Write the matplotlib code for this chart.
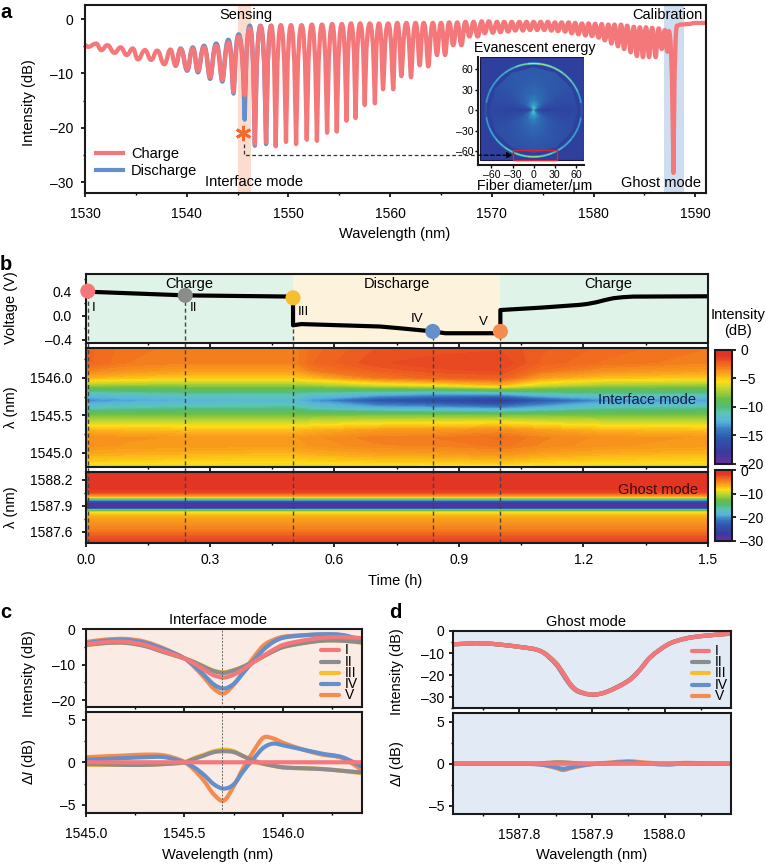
import matplotlib
matplotlib.use('Agg')
import matplotlib.pyplot as plt
import numpy as np
from matplotlib.colors import LinearSegmentedColormap
from matplotlib.lines import Line2D
from matplotlib.patches import Arc, PathPatch, Rectangle
from matplotlib.path import Path
from matplotlib.ticker import MultipleLocator

plt.rcParams['font.family'] = ['Liberation Sans', 'DejaVu Sans']
plt.rcParams['font.size'] = 10
plt.rcParams['mathtext.fontset'] = 'custom'
plt.rcParams['mathtext.rm'] = 'Liberation Sans'
plt.rcParams['mathtext.it'] = 'Liberation Sans:italic'
plt.rcParams['axes.linewidth'] = 1.5
plt.rcParams['axes.edgecolor'] = '#1a1a1a'

W, H = 766, 867
LABEL = 10.5

RED = '#F4777A'
GREY = '#8C8C8C'
YEL = '#F7BE2F'
BLUE = '#648FCB'
ORG = '#F58B4C'

# panel a, alternating fringe extremes
charge_wl = [1530.0, 1530.3, 1531.1, 1531.6, 1532.2, 1532.9, 1533.5, 1534.1, 1534.7, 1535.2,
             1535.9, 1536.5, 1537.1, 1537.8, 1538.4, 1538.9, 1539.4, 1540.05, 1540.6, 1541.1,
             1541.7, 1542.3, 1542.9, 1543.5, 1544.1, 1544.6, 1545.1, 1545.7, 1546.2, 1546.7,
             1547.25, 1547.8, 1548.3, 1548.75, 1549.25, 1549.76, 1550.25, 1550.75, 1551.3, 1551.8,
             1552.3, 1552.8, 1553.3, 1553.8, 1554.3, 1554.75, 1555.25, 1555.7, 1556.15, 1556.6,
             1557.05, 1557.5, 1558.0, 1558.5, 1558.9, 1559.3, 1559.8, 1560.3, 1560.7, 1561.1,
             1561.6, 1562.05, 1562.5, 1562.9, 1563.3, 1563.75, 1564.2, 1564.6, 1565.0, 1565.4,
             1565.8, 1566.2, 1566.6, 1567.0, 1567.4, 1567.8, 1568.2, 1568.6, 1569.0, 1569.3,
             1569.7, 1570.1, 1570.5, 1570.85, 1571.2, 1571.6, 1571.95, 1572.3, 1572.7, 1573.05,
             1573.4, 1573.75, 1574.1, 1574.45, 1574.8, 1575.15, 1575.5, 1575.85, 1576.2, 1576.5,
             1576.85, 1577.2, 1577.55, 1577.85, 1578.2, 1578.5, 1578.85, 1579.2, 1579.5, 1579.85,
             1580.15, 1580.5, 1580.8, 1581.1, 1581.45, 1581.75, 1582.05, 1582.4, 1582.7, 1583.0,
             1583.3, 1583.65, 1583.95, 1584.25, 1584.55, 1584.85, 1585.15, 1585.45, 1585.75, 1586.1,
             1586.4, 1586.7, 1587.0, 1587.25, 1587.4, 1587.85, 1588.2, 1588.6, 1589.3, 1590.0, 1591.05]
charge_int = [-4.8, -5.1, -4.5, -5.7, -4.8, -6.2, -5.2, -6.6, -5.4, -7.4,
              -5.7, -7.5, -5.8, -8.3, -5.6, -8.5, -5.5, -9.3, -5.4, -9.5,
              -5.2, -10.7, -4.9, -11.2, -4.3, -13.4, -3.2, -14.0, -1.7, -23.0,
              -1.3, -22.7, -1.2, -23.4, -1.1, -22.6, -1.1, -23.0, -1.1, -22.2,
              -1.0, -22.4, -1.0, -20.9, -0.9, -20.7, -0.9, -18.7, -0.8, -18.2,
              -0.8, -15.8, -0.8, -15.5, -0.8, -12.9, -0.8, -12.9, -0.7, -10.5,
              -0.7, -10.7, -0.7, -8.5, -0.7, -8.7, -0.7, -6.6, -0.7, -6.6,
              -0.6, -4.8, -0.6, -4.8, -0.5, -3.2, -0.5, -3.2, -0.4, -2.6,
              -0.4, -2.5, -0.5, -2.4, -0.5, -2.3, -0.5, -2.1, -0.5, -2.1,
              -0.5, -2.0, -0.5, -2.0, -0.5, -2.0, -0.5, -2.1, -0.6, -2.2,
              -0.6, -2.3, -0.6, -2.6, -0.7, -2.8, -0.8, -3.0, -0.8, -3.1,
              -0.85, -3.4, -0.9, -3.9, -1.0, -4.5, -1.0, -5.0, -1.0, -5.5,
              -1.2, -6.1, -1.4, -6.8, -1.5, -7.0, -1.5, -7.0, -1.6, -7.0,
              -1.7, -5.5, -2.0, -6.0, -2.2, -28.3, -1.2, -1.0, -0.9, -0.7, -0.7]
discharge_wl = [1538.9, 1539.4, 1540.05, 1540.6, 1541.1, 1541.7, 1542.3, 1542.9, 1543.5, 1544.1,
                1544.6, 1545.1, 1545.7, 1546.2, 1546.7, 1547.25, 1547.8, 1548.3]
discharge_int = [-8.6, -5.4, -9.5, -5.2, -9.8, -4.9, -11.0, -4.5, -11.5, -3.8,
                 -13.7, -2.8, -18.5, -1.2, -23.3, -1.2, -23.0, -1.2]
a_ticks = [1530, 1540, 1550, 1560, 1570, 1580, 1590]
a_yticks = [0, -10, -20, -30]

# panel a inset, polar table (bowtie field inside the fibre)
inset_r = [0, 3, 8, 15, 25, 35, 45, 55, 62]
inset_deg = [0, 30, 60, 90, 120, 150, 180, 210, 240, 270, 300, 330, 360]
inset_field = [[.60, .05, .02, .01, .02, .02, .03, .04, .05],
               [.60, .35, .22, .16, .13, .11, .10, .10, .10],
               [.60, .52, .38, .26, .20, .17, .15, .15, .14],
               [.65, .60, .45, .32, .24, .20, .17, .15, .14],
               [.60, .52, .38, .26, .20, .17, .15, .15, .14],
               [.60, .35, .22, .16, .13, .11, .10, .10, .10],
               [.60, .05, .02, .01, .02, .02, .03, .04, .05],
               [.60, .35, .22, .16, .13, .11, .09, .09, .08],
               [.60, .52, .38, .26, .20, .16, .13, .11, .10],
               [.65, .60, .45, .32, .24, .19, .15, .12, .10],
               [.60, .52, .38, .26, .20, .16, .13, .11, .10],
               [.60, .35, .22, .16, .13, .11, .09, .09, .08],
               [.60, .05, .02, .01, .02, .02, .03, .04, .05]]
ring_deg = [3, 15, 30, 45, 60, 75, 90, 105, 120, 135, 150, 165, 177,
            183, 195, 210, 225, 240, 255, 270, 285, 300, 315, 330, 345, 357]
ring_val = [.12, .48, .62, .70, .78, .85, .92, .72, .56, .50, .46, .42, .12,
            .12, .44, .50, .58, .68, .76, .82, .72, .60, .52, .48, .44, .12]
inset_ticks = [-60, -30, 0, 30, 60]

# panel b
volt_t = [0.005, 0.24, 0.5, 0.5, 0.52, 0.71, 0.76, 0.837, 0.867, 1.0, 1.0, 1.1, 1.192, 1.21, 1.232, 1.25, 1.272, 1.295, 1.32, 1.5]
volt_v = [0.39, 0.33, 0.31, -0.16, -0.14, -0.18, -0.21, -0.26, -0.29, -0.29, 0.09, 0.13, 0.175, 0.19, 0.218, 0.25, 0.283, 0.30, 0.31, 0.315]
point_t = [0.005, 0.24, 0.5, 0.837, 1.0]
point_v = [0.40, 0.33, 0.29, -0.26, -0.26]
point_c = [RED, GREY, YEL, BLUE, ORG]
point_names = ['I', 'II', 'III', 'IV', 'V']

heat_t = [0, 0.1, 0.24, 0.4, 0.5, 0.55, 0.7, 0.84, 1.0, 1.1, 1.25, 1.5]
heat_wl = [1546.39, 1546.2, 1546.1, 1546.0, 1545.9, 1545.8, 1545.7, 1545.6, 1545.5,
           1545.4, 1545.3, 1545.2, 1545.1, 1545.0, 1544.9, 1544.81]
heat_int = [[-2.4, -2.9, -3.1, -3.2, -3.2, -2.6, -2.0, -1.9, -1.8, -2.2, -2.6, -3.0],
            [-2.4, -3.0, -3.2, -3.2, -3.2, -2.5, -1.8, -1.6, -1.5, -2.3, -2.8, -3.2],
            [-3.2, -3.6, -3.9, -3.9, -3.9, -3.0, -2.2, -1.8, -1.7, -2.8, -3.5, -3.9],
            [-4.4, -4.8, -5.0, -5.0, -5.0, -4.6, -3.0, -2.4, -2.2, -4.0, -4.8, -5.0],
            [-7.5, -7.7, -7.7, -7.7, -7.7, -7.5, -6.5, -5.8, -4.6, -6.5, -7.5, -7.7],
            [-11.2, -11.0, -10.5, -10.5, -10.5, -11.0, -11.4, -12.2, -11.8, -10.8, -10.3, -10.3],
            [-13.6, -13.0, -12.6, -12.2, -12.2, -13.3, -15.8, -16.8, -18.0, -15.5, -13.5, -13.2],
            [-11.4, -11.0, -10.6, -10.6, -10.5, -11.5, -12.6, -12.9, -13.6, -12.5, -11.0, -10.6],
            [-8.2, -8.2, -8.2, -8.2, -8.2, -8.2, -8.2, -8.2, -8.2, -8.2, -8.2, -8.2],
            [-6.3, -6.4, -6.5, -6.5, -6.5, -6.2, -5.8, -5.7, -5.5, -5.9, -6.3, -6.5],
            [-4.4, -4.6, -4.7, -4.7, -4.7, -4.4, -3.9, -3.8, -3.5, -4.0, -4.5, -4.7],
            [-3.5, -3.7, -3.8, -3.8, -3.8, -3.6, -3.1, -3.0, -2.7, -3.2, -3.6, -3.8],
            [-3.6, -3.8, -3.85, -3.9, -3.9, -3.7, -3.3, -3.2, -2.9, -3.3, -3.7, -3.9],
            [-4.2, -4.3, -4.4, -4.5, -4.5, -4.3, -4.0, -3.9, -3.6, -4.0, -4.3, -4.5],
            [-5.0, -5.1, -5.2, -5.3, -5.3, -5.1, -4.9, -4.8, -4.6, -4.9, -5.1, -5.3],
            [-6.4, -6.5, -6.6, -6.6, -6.6, -6.5, -6.3, -6.2, -6.0, -6.3, -6.5, -6.6]]
ghost_t = [0, 1.5]
ghost_wl = [1588.29, 1588.1, 1588.05, 1588.005, 1587.98, 1587.965, 1587.95, 1587.92, 1587.9,
            1587.88, 1587.87, 1587.86, 1587.85, 1587.83, 1587.8, 1587.75, 1587.7, 1587.6, 1587.55, 1587.47]
ghost_int = [-1.5, -1.5, -2.3, -6.0, -12.0, -18.0, -22.7, -27.6, -28.8,
             -27.0, -24.0, -19.0, -14.5, -9.2, -7.2, -6.0, -5.5, -4.2, -3.0, -1.8]

# panel c
c_wl = [1545.0, 1545.1, 1545.2, 1545.3, 1545.4, 1545.5, 1545.55, 1545.6, 1545.65, 1545.7,
        1545.75, 1545.8, 1545.85, 1545.9, 1545.95, 1546.0, 1546.1, 1546.2, 1546.3, 1546.4]
c_I = [-4.2, -3.6, -3.5, -4.4, -6.3, -8.2, -9.7, -11.4, -13.0, -13.6,
       -12.8, -11.2, -9.3, -7.5, -5.8, -4.4, -3.2, -2.4, -2.2, -2.5]
c_dII = [-0.2, -0.25, -0.3, -0.3, -0.2, 0.0, 0.4, 0.8, 1.2, 1.3,
         1.2, 0.7, 0.2, -0.15, -0.4, -0.6, -0.7, -0.8, -1.0, -1.2]
c_dIII = [-0.3, -0.3, -0.3, -0.3, -0.2, 0.0, 0.5, 0.9, 1.3, 1.5,
          1.3, 0.7, 0.1, -0.2, -0.4, -0.6, -0.7, -0.8, -1.0, -1.3]
c_dIV = [0.3, 0.4, 0.5, 0.6, 0.6, 0.0, -0.6, -1.5, -2.6, -3.1,
         -2.6, -1.0, 0.4, 1.7, 2.2, 2.0, 1.5, 1.0, 0.6, -0.5]
c_dV = [0.6, 0.7, 0.8, 0.9, 0.8, 0.05, -0.9, -2.2, -3.8, -4.5,
        -2.8, -0.6, 1.3, 2.9, 2.8, 2.3, 1.5, 0.9, 0.5, -0.9]

# panel d
d_wl = [1587.709, 1587.75, 1587.8, 1587.83, 1587.85, 1587.86, 1587.87, 1587.88, 1587.9, 1587.92,
        1587.95, 1587.965, 1587.98, 1588.005, 1588.028, 1588.051, 1588.091]
d_I = [-6.0, -5.6, -7.2, -9.2, -14.5, -19.0, -24.0, -27.0, -28.8, -27.6,
       -22.7, -18.0, -12.0, -6.0, -3.5, -2.3, -1.2]
d_dII = [0, 0, 0, 0.05, 0.15, 0.15, 0.1, 0.05, 0, 0, 0.1, 0.05, 0, 0, 0, 0, 0]
d_dIII = [0, 0, 0, 0.05, 0.15, 0.15, 0.1, 0.05, 0, 0, 0.1, 0.05, 0, 0, 0, 0, 0]
d_dIV = [0, 0, 0, -0.1, -0.4, -0.6, -0.45, -0.25, -0.05, 0.05, 0.2, 0.1, 0, -0.1, 0.05, 0, 0]
d_dV = [0, 0, 0, -0.1, -0.5, -0.75, -0.55, -0.35, -0.05, 0.1, 0.3, 0.2, 0.1, 0, 0.1, 0.05, 0]

jetish = LinearSegmentedColormap.from_list('jetish', [
    (0.000, '#6B2FA0'), (0.100, '#3B3A9E'), (0.225, '#2E56AC'), (0.300, '#3878BF'),
    (0.375, '#58B4DC'), (0.450, '#5CC4B4'), (0.500, '#52BC7A'), (0.575, '#6CBD45'),
    (0.650, '#B3D334'), (0.725, '#FFDE17'), (0.800, '#F9A11B'), (0.875, '#F0691F'),
    (0.950, '#E33524'), (1.000, '#E0312A')])
inset_map = LinearSegmentedColormap.from_list('inset', [
    (0.0, '#2E3F9E'), (0.25, '#2F6DB5'), (0.5, '#35B2D3'), (0.72, '#7ED39B'), (1.0, '#EEE43A')])


def px_axes(left, top, right, bottom):
    return fig.add_axes([left / W, 1 - bottom / H, (right - left) / W, (bottom - top) / H])


def ftext(x, y, s, **kw):
    kw.setdefault('ha', 'center')
    kw.setdefault('va', 'center')
    kw.setdefault('fontsize', LABEL)
    fig.text(x / W, 1 - y / H, s, **kw)


def dash(vals):
    return [str(v).replace('-', '–') for v in vals]


def style(ax, mx=None, my=None, padx=3, pady=3):
    ax.tick_params(which='major', length=3, width=1.2)
    ax.tick_params(which='minor', length=1.6, width=1.0)
    ax.tick_params(axis='x', which='major', pad=padx)
    ax.tick_params(axis='y', which='major', pad=pady)
    if mx:
        ax.xaxis.set_minor_locator(MultipleLocator(mx))
    if my:
        ax.yaxis.set_minor_locator(MultipleLocator(my))


def fringe_path(wl, val):
    # cubic pieces through the read extremes: broad tops, narrow dips
    verts = [(wl[0], val[0])]
    codes = [Path.MOVETO]
    for i in range(1, len(wl)):
        x0, x1 = wl[i - 1], wl[i]
        a, b = val[i - 1], val[i]
        dx = x1 - x0
        depth = min(max((abs(b - a) - 3) / 12, 0), 1)
        k_top = 0.45 + 0.35 * depth
        k_dip = 0.45 - 0.40 * depth
        if b < a:
            verts += [(x0 + k_top * dx, a), (x1 - k_dip * dx, b), (x1, b)]
        else:
            verts += [(x0 + k_dip * dx, a), (x1 - k_top * dx, b), (x1, b)]
        codes += [Path.CURVE4] * 3
    return Path(verts, codes)


def smooth_path(x, y):
    # catmull-rom style through the read points, no extra data
    x = np.asarray(x, float)
    y = np.asarray(y, float)
    verts = [(x[0], y[0])]
    codes = [Path.MOVETO]
    slope = np.zeros(len(x))
    slope[1:-1] = (y[2:] - y[:-2]) / (x[2:] - x[:-2])
    slope[0] = (y[1] - y[0]) / (x[1] - x[0])
    slope[-1] = (y[-1] - y[-2]) / (x[-1] - x[-2])
    for i in range(1, len(x)):
        h = (x[i] - x[i - 1]) / 3
        verts += [(x[i - 1] + h, y[i - 1] + slope[i - 1] * h), (x[i] - h, y[i] - slope[i] * h), (x[i], y[i])]
        codes += [Path.CURVE4] * 3
    return Path(verts, codes)


def mode_key(x0, x1, xt, rows):
    # drawn by hand, legend() cannot pack the rows this tight
    for name, col, y in zip(point_names, point_c, rows):
        fig.add_artist(Line2D([x0 / W, x1 / W], [1 - y / H, 1 - y / H], color=col, lw=3.0,
                              transform=fig.transFigure, solid_capstyle='round'))
        ftext(xt, y, name, ha='left', fontsize=10)


fig = plt.figure(figsize=(W / 100, H / 100), dpi=100)

for s, x, y in [('a', 6, 13), ('b', 6, 265), ('c', 6, 613), ('d', 395, 612)]:
    ftext(x, y, s, fontsize=14.5, fontweight='bold')

# ---- a
ax_a = px_axes(85, 5, 706, 193)
ax_a.set_xlim(1530, 1591.05)
ax_a.set_ylim(-32, 2.6)
ax_a.axvspan(1545.04, 1546.3, color='#FBDCCF', lw=0)
ax_a.axvspan(1586.95, 1588.85, color='#CFDDF0', lw=0)
ax_a.add_patch(PathPatch(fringe_path(discharge_wl, discharge_int), fill=False, ec=BLUE, lw=3.1,
                         capstyle='round', joinstyle='round'))
ax_a.add_patch(PathPatch(fringe_path(charge_wl, charge_int), fill=False, ec=RED, lw=3.1,
                         capstyle='round', joinstyle='round'))
ax_a.plot([1545.6, 1545.6, 1573], [-23, -25, -25], color='#333333', lw=0.9, dashes=(3, 2))
ax_a.plot([1545.5], [-21], marker=(6, 2, 0), ms=11, mew=2, color='#F26A2E', ls='none')
ax_a.set_xticks(a_ticks)
ax_a.set_yticks(a_yticks, labels=dash(a_yticks))
style(ax_a, 5, 5, padx=7, pady=5.4)
ax_a.legend(handles=[Line2D([], [], color=RED, lw=3.0, label='Charge'),
                     Line2D([], [], color=BLUE, lw=3.0, label='Discharge')],
            loc='lower left', bbox_to_anchor=(0.018, 0.08), frameon=False, fontsize=LABEL,
            handlelength=1.85, labelspacing=0.22, handletextpad=0.55, borderpad=0, borderaxespad=0)
ftext(246, 15, 'Sensing')
ftext(667, 15, 'Calibration')
ftext(254, 182, 'Interface mode')
ftext(661, 183, 'Ghost mode')
ftext(29, 103, 'Intensity (dB)', rotation=90)
ftext(395, 234, 'Wavelength (nm)')

# inset
ax_in = px_axes(478, 57, 584, 165)
ax_in.set_xlim(-79, 71.5)
ax_in.set_ylim(-80, 77.5)
ax_in.set_zorder(5)
ax_in.add_patch(Rectangle((-75.6, -73), 146.6, 150, fc='#2E3F9E', ec='#1a1a40', lw=0.8, zorder=1))
rr, tt = np.meshgrid(inset_r, np.radians(inset_deg))
ax_in.pcolormesh(rr * np.cos(tt), rr * np.sin(tt), np.array(inset_field), cmap=inset_map,
                 vmin=0, vmax=1, shading='gouraud', zorder=2)
edges = [0] + [(ring_deg[i] + ring_deg[i + 1]) / 2 for i in range(len(ring_deg) - 1)] + [360]
for i, v in enumerate(ring_val):
    th1, th2 = edges[i], edges[i + 1]
    ax_in.add_patch(Arc((0, 0), 136, 136, theta1=th1, theta2=th2, ec=inset_map(v * 0.55),
                        lw=1.7, zorder=3))
    ax_in.add_patch(Arc((0, 0), 136, 136, theta1=th1, theta2=th2, ec=inset_map(v),
                        lw=0.8, zorder=4))
ax_in.add_patch(Rectangle((-30, -72), 63, 14, fill=False, ec='#D8262C', lw=1.0, zorder=5))
ax_in.annotate('', xy=(-30, -65.7), xytext=(-79, -65.7), zorder=6,
               arrowprops=dict(arrowstyle='-|>', color='black', lw=0.9, ls=(0, (3, 2)),
                               shrinkA=0, shrinkB=0, mutation_scale=8))
for side in ['top', 'right']:
    ax_in.spines[side].set_visible(False)
ax_in.set_xticks(inset_ticks, labels=dash(inset_ticks))
ax_in.set_yticks(inset_ticks, labels=dash(inset_ticks))
ax_in.tick_params(labelsize=7.6, length=2.5, width=1.0, pad=1)
ftext(535, 48, 'Evanescent energy', fontsize=10.2)
ftext(535, 186, 'Fiber diameter/μm', fontsize=10.2)

# ---- b
ax_v = px_axes(85.7, 274, 707.7, 342.7)
ax_v.set_xlim(0, 1.5)
ax_v.set_ylim(-0.445, 0.68)
ax_v.axvspan(0, 0.5, color='#DFF3E8', lw=0)
ax_v.axvspan(0.5, 1.0, color='#FDF3DC', lw=0)
ax_v.axvspan(1.0, 1.5, color='#DFF3E8', lw=0)
ax_v.vlines(point_t, -0.52, point_v, color='#444444', lw=1, linestyles=(0, (3, 2)), clip_on=False)
ax_v.plot(volt_t, volt_v, color='black', lw=3.0, solid_joinstyle='round')
ax_v.scatter(point_t, point_v, s=118, c=point_c, zorder=5, clip_on=False, lw=0)
ax_v.set_xticks(np.arange(0, 1.6, 0.3), labels=[])
ax_v.set_yticks([0.4, 0.0, -0.4], labels=['0.4', '0.0', '–0.4'])
style(ax_v, 0.15, 0.2, pady=6.8)
for name, x, y in zip(point_names, [0.018, 0.26, 0.526, 0.8, 0.96], [0.12, 0.13, 0.065, -0.05, -0.11]):
    ax_v.text(x, y, name, fontsize=9.6, ha='center', va='center')
ax_v.text(0.25, 0.52, 'Charge', ha='center', va='center', fontsize=LABEL)
ax_v.text(0.75, 0.52, 'Discharge', ha='center', va='center', fontsize=LABEL)
ax_v.text(1.26, 0.52, 'Charge', ha='center', va='center', fontsize=LABEL)
ftext(11, 308, 'Voltage (V)', rotation=90)

levels1 = np.linspace(-20, 0, 81)
ax_h1 = px_axes(85.7, 348.3, 707.7, 467.3)
cf1 = ax_h1.contourf(heat_t, heat_wl, np.array(heat_int), levels=levels1, cmap=jetish)
ax_h1.set_ylim(1544.81, 1546.39)
ax_h1.vlines(point_t, 1544.75, 1546.39, color='#444444', lw=1, linestyles=(0, (3, 2)), clip_on=False)
ax_h1.set_xticks(np.arange(0, 1.6, 0.3), labels=[])
ax_h1.set_yticks([1546.0, 1545.5, 1545.0], labels=['1546.0', '1545.5', '1545.0'])
style(ax_h1, 0.15, 0.25, pady=6.8)
ax_h1.text(1.354, 1545.705, 'Interface mode', ha='center', va='center', fontsize=LABEL, color='#10203a')
ftext(11, 407, 'λ (nm)', rotation=90)

levels2 = np.linspace(-30, 0, 91)
ax_h2 = px_axes(85.7, 471.7, 707.7, 543)
cf2 = ax_h2.contourf(ghost_t, ghost_wl, np.column_stack([ghost_int, ghost_int]), levels=levels2, cmap=jetish)
ax_h2.set_ylim(1587.47, 1588.29)
ax_h2.vlines(point_t, 1587.47, 1588.29, color='#444444', lw=1, linestyles=(0, (3, 2)))
ax_h2.set_xticks(np.arange(0, 1.6, 0.3))
ax_h2.set_yticks([1588.2, 1587.9, 1587.6], labels=['1588.2', '1587.9', '1587.6'])
style(ax_h2, 0.15, 0.15, padx=4, pady=6.8)
ax_h2.text(1.38, 1588.08, 'Ghost mode', ha='center', va='center', fontsize=LABEL, color='#3a0d0a')
ftext(11, 507, 'λ (nm)', rotation=90)
ftext(395, 581, 'Time (h)')

cax1 = px_axes(715, 350, 731.7, 464)
cb1 = fig.colorbar(cf1, cax=cax1, ticks=[0, -5, -10, -15, -20])
cb1.ax.set_yticklabels(dash([0, -5, -10, -15, -20]))
cax2 = px_axes(715, 470, 731.7, 541)
cb2 = fig.colorbar(cf2, cax=cax2, ticks=[0, -10, -20, -30])
cb2.ax.set_yticklabels(dash([0, -10, -20, -30]))
for cb in (cb1, cb2):
    cb.ax.tick_params(length=3, width=1.2, pad=3)
    cb.ax.minorticks_off()
    cb.outline.set_linewidth(1.5)
ftext(738, 323, 'Intensity\n(dB)', linespacing=1.25)


# ---- c, d
def mode_panels(left, right, tops, wl, base, deltas, xlim, ylim_u, ylim_l, bg, xticks, xminor,
                yticks_u, padx, pady):
    ax_u = px_axes(left, tops[0], right, tops[1])
    ax_l = px_axes(left, tops[2], right, tops[3])
    curves = {'I': (np.array(base), RED, np.zeros(len(wl)))}
    for name, col, d in zip(['II', 'III', 'IV', 'V'], [GREY, YEL, BLUE, ORG], deltas):
        d = np.array(d)
        curves[name] = (np.array(base) + d, col, d)
    for name in ['III', 'V', 'IV', 'II', 'I']:
        vals, col, d = curves[name]
        ax_u.add_patch(PathPatch(smooth_path(wl, vals), fill=False, ec=col, lw=3.0))
        ax_l.add_patch(PathPatch(smooth_path(wl, d), fill=False, ec=col, lw=3.0))
    for ax in (ax_u, ax_l):
        ax.set_facecolor(bg)
        ax.set_xlim(*xlim)
        ax.set_xticks(xticks)
    ax_u.set_ylim(*ylim_u)
    ax_l.set_ylim(*ylim_l)
    ax_u.set_yticks(yticks_u, labels=dash(yticks_u))
    ax_u.set_xticklabels([])
    ax_l.set_yticks([5, 0, -5], labels=dash([5, 0, -5]))
    ax_l.set_xticklabels(['%.1f' % t for t in xticks])
    style(ax_u, xminor, 5, pady=pady)
    style(ax_l, xminor, 2.5, padx=padx, pady=pady)
    return ax_u, ax_l


c_ticks = [1545.0, 1545.5, 1546.0]
c_u, c_l = mode_panels(85.7, 362, (629.3, 707.3, 712.3, 812.7), c_wl, c_I,
                       [c_dII, c_dIII, c_dIV, c_dV], (1545.0, 1546.4), (-22, 0), (-5.93, 5.88),
                       '#FBEBE5', c_ticks, 0.25, [0, -10, -20], 7.5, 4.4)
for ax in (c_u, c_l):
    ax.axvline(1545.69, color='#666666', lw=0.7, dashes=(2, 1.5), zorder=6)
mode_key(321, 339, 345, [650, 661.7, 672.7, 683.5, 695])
ftext(218, 620, 'Interface mode')
ftext(29, 674, 'Intensity (dB)', rotation=90)
ftext(29, 762, 'Δ$\\mathit{I}$ (dB)', rotation=90)
ftext(218, 855, 'Wavelength (nm)')

d_ticks = [1587.8, 1587.9, 1588.0]
d_u, d_l = mode_panels(453.3, 730.7, (631, 708.3, 713.3, 814.3), d_wl, d_I,
                       [d_dII, d_dIII, d_dIV, d_dV], (1587.709, 1588.091), (-35, 0), (-6, 5.98),
                       '#E2EAF5', d_ticks, 0.05, [0, -10, -20, -30], 7, 3.4)
mode_key(692, 709, 714.5, [650.7, 662.3, 673.3, 685, 696])
ftext(586, 622, 'Ghost mode')
ftext(397, 672, 'Intensity (dB)', rotation=90)
ftext(397, 764, 'Δ$\\mathit{I}$ (dB)', rotation=90)
ftext(592, 855, 'Wavelength (nm)')

fig.savefig('out.png', dpi=100)
